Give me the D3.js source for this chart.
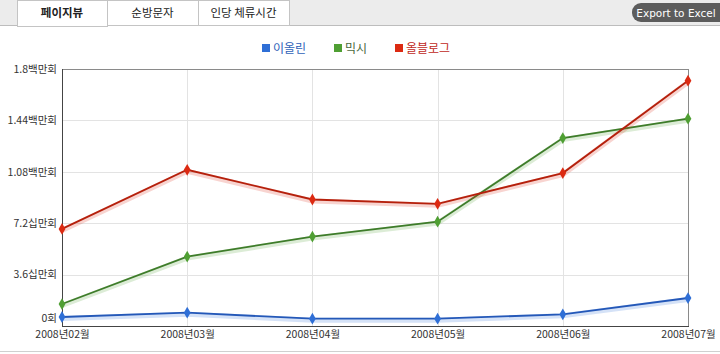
<!DOCTYPE html>
<html>
<head>
<meta charset="utf-8">
<script src="https://cdn.jsdelivr.net/npm/d3@7"></script>
<style>
  body { margin: 0; background: #fff; }
  svg { display: block; font-family: "Noto Sans CJK KR", "Noto Sans", sans-serif; }
</style>
</head>
<body>
<div id="chart"></div>
<script>
// chart data (values in 백만회)
const months = ["2008년02월", "2008년03월", "2008년04월", "2008년05월", "2008년06월", "2008년07월"];
const seriesNames = ["이올린", "믹시", "올블로그"];
const eolinValues = [0.063, 0.093, 0.051, 0.051, 0.082, 0.196];
const mixshValues = [0.154, 0.486, 0.626, 0.731, 1.316, 1.452];
const allblogValues = [0.680, 1.094, 0.886, 0.856, 1.071, 1.718];
const yTicks = [0, 0.36, 0.72, 1.08, 1.44, 1.8];
const yTickLabels = ["0회", "3.6십만회", "7.2십만회", "1.08백만회", "1.44백만회", "1.8백만회"];
const tabLabels = ["페이지뷰", "순방문자", "인당 체류시간"];

const colors = ["#2f6fd6", "#4f9f33", "#dc2a12"];
const coreColors = ["#2458b8", "#3e7c2a", "#b5200c"];
const textColors = ["#2f62b8", "#4a6a40", "#c0281a"];

const width = 720, height = 354;
const margin = {top: 69, right: 32, bottom: 28, left: 62};

const svg = d3.select("#chart").append("svg")
    .attr("width", width)
    .attr("height", height);

// top tab strip
svg.append("rect").attr("x", 0).attr("y", 0).attr("width", width).attr("height", 25).attr("fill", "#ececec");
svg.append("line").attr("x1", 0).attr("x2", width).attr("y1", 25.5).attr("y2", 25.5).attr("stroke", "#bdbdbd");

const tabX = [17, 107, 198, 289];
tabLabels.forEach((t, i) => {
    const x0 = tabX[i], x1 = tabX[i + 1];
    svg.append("rect")
        .attr("x", x0 + 0.5).attr("y", 0.5)
        .attr("width", x1 - x0).attr("height", i === 0 ? 26 : 25)
        .attr("fill", "#fff")
        .attr("stroke", "#c4c4c4");
    svg.append("text")
        .attr("x", (x0 + x1) / 2).attr("y", 17)
        .attr("text-anchor", "middle")
        .style("font-size", "11.5px")
        .style("font-weight", i === 0 ? "bold" : "normal")
        .attr("fill", "#222")
        .text(t);
});
// hide the bottom border of active tab
svg.append("line").attr("x1", 18).attr("x2", 107).attr("y1", 25.5).attr("y2", 25.5).attr("stroke", "#fff");

// export button
svg.append("rect")
    .attr("x", 632).attr("y", 3).attr("width", 100).attr("height", 19).attr("rx", 9)
    .attr("fill", "#5c5c5c");
svg.append("text")
    .attr("x", 676).attr("y", 16.5)
    .attr("text-anchor", "middle")
    .style("font-size", "10.5px")
    .style("font-family", "'DejaVu Sans', sans-serif")
    .attr("fill", "#fff")
    .text("Export to Excel");

// bottom rule
svg.append("line").attr("x1", 0).attr("x2", width).attr("y1", 351.5).attr("y2", 351.5).attr("stroke", "#d0d0d0");

// legend
const legendX = [262, 334, 395];
seriesNames.forEach((n, i) => {
    svg.append("rect")
        .attr("x", legendX[i]).attr("y", 44).attr("width", 8).attr("height", 8)
        .attr("fill", colors[i]);
    svg.append("text")
        .attr("x", legendX[i] + 11).attr("y", 52.5)
        .style("font-size", "12px")
        .attr("fill", textColors[i])
        .text(n);
});

const g = svg.append("g").attr("transform", `translate(${margin.left},${margin.top})`);
const w = width - margin.left - margin.right;
const h = height - margin.top - margin.bottom;

const x = d3.scalePoint().domain(months).range([0, w]);
const y = d3.scaleLinear().domain([0, 1.8]).range([h, 0]);

// grid
g.selectAll(".hgrid").data(yTicks.slice(1, -1)).join("line")
    .attr("x1", 0).attr("x2", w)
    .attr("y1", d => Math.round(y(d)) + 0.5).attr("y2", d => Math.round(y(d)) + 0.5)
    .attr("stroke", "#e3e3e3");
g.selectAll(".vgrid").data(months.slice(1, -1)).join("line")
    .attr("x1", d => Math.round(x(d)) + 0.5).attr("x2", d => Math.round(x(d)) + 0.5)
    .attr("y1", 0).attr("y2", h)
    .attr("stroke", "#e3e3e3");

// frame
g.append("rect").attr("x", 0.5).attr("y", 0.5).attr("width", w).attr("height", h)
    .attr("fill", "none").attr("stroke", "#8a8a8a");
g.append("line").attr("x1", 0.5).attr("x2", 0.5).attr("y1", 0).attr("y2", h + 1).attr("stroke", "#444");
g.append("line").attr("x1", 0).attr("x2", w + 1).attr("y1", h + 0.5).attr("y2", h + 0.5).attr("stroke", "#444");

// y axis labels
const yAxis = d3.axisLeft(y).tickValues(yTicks).tickSize(0).tickPadding(5)
    .tickFormat((d, i) => yTickLabels[i]);
g.append("g").call(yAxis)
    .call(s => s.select(".domain").remove())
    .selectAll("text")
    .style("font-size", "10.5px")
    .style("font-family", "'Noto Sans CJK KR', sans-serif")
    .attr("fill", "#333")
    .attr("dy", (d, i) => i === 0 ? "-0.45em" : "0.32em");

// x axis labels
const xAxis = d3.axisBottom(x).tickSize(0).tickPadding(5);
g.append("g").attr("transform", `translate(0,${h})`).call(xAxis)
    .call(s => s.select(".domain").remove())
    .selectAll("text")
    .style("font-size", "10.5px")
    .style("font-family", "'Noto Sans CJK KR', sans-serif")
    .attr("fill", "#333");

// lines
const allSeries = [eolinValues, mixshValues, allblogValues];
const line = d3.line().x((d, i) => x(months[i])).y(d => y(d));

allSeries.forEach((vals, i) => {
    g.append("path").datum(vals)
        .attr("fill", "none").attr("stroke", colors[i])
        .attr("stroke-opacity", 0.2).attr("stroke-width", 5)
        .attr("transform", "translate(0,1.5)")
        .attr("d", line);
    g.append("path").datum(vals)
        .attr("fill", "none").attr("stroke", coreColors[i])
        .attr("stroke-width", 1.8)
        .attr("d", line);
    g.selectAll(null).data(vals).join("path")
        .attr("transform", (d, j) => `translate(${x(months[j])},${y(d)})`)
        .attr("d", d3.symbol(d3.symbolDiamond, 40))
        .attr("fill", colors[i]);
});
</script>
</body>
</html>
